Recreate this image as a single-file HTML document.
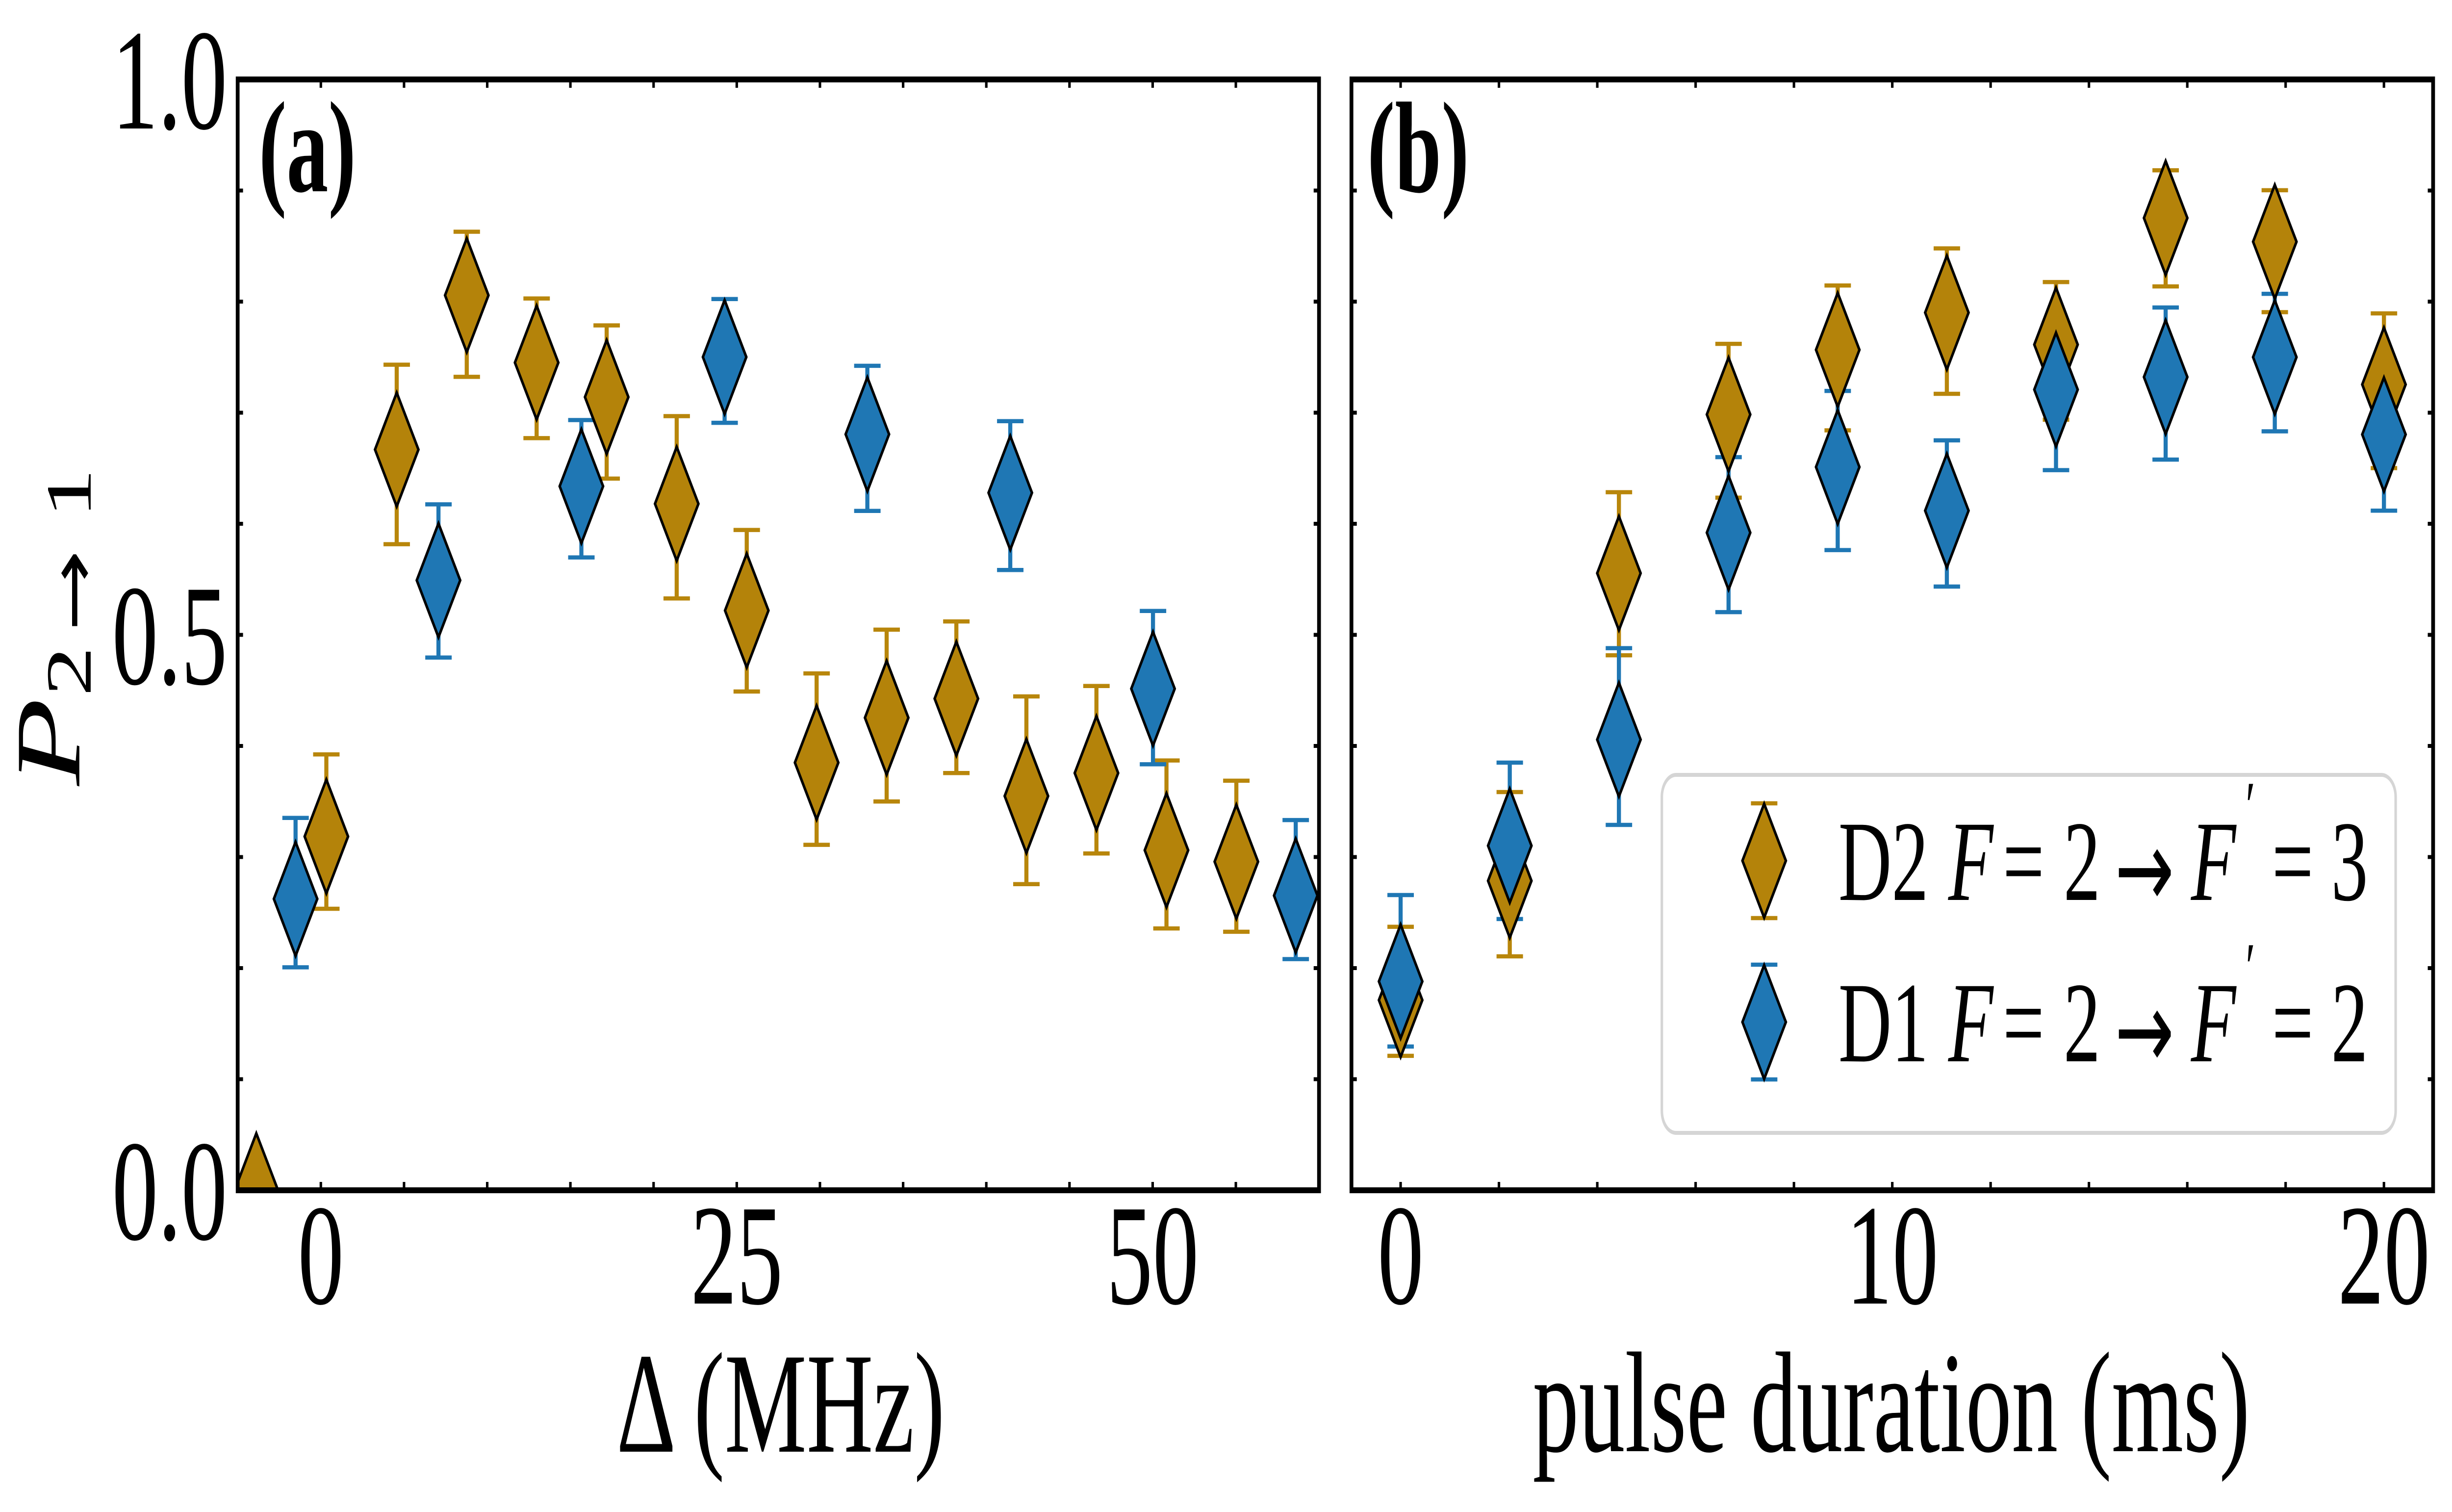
<!DOCTYPE html>
<html lang="en">
<head>
<meta charset="utf-8">
<title>Transfer probability vs detuning and pulse duration</title>
<style>
html,body{margin:0;padding:0;background:#fff;width:100%;height:100%;overflow:hidden}
svg{display:block;width:100%;height:100%}
text{font-family:"Liberation Serif","DejaVu Serif",serif;fill:#000}
.arrow{font-family:"DejaVu Sans",sans-serif}
</style>
</head>
<body>
<svg id="figure" xmlns="http://www.w3.org/2000/svg" viewBox="0 0 7789 3083" preserveAspectRatio="none">
  <defs>
    <clipPath id="clip-a"><rect x="755" y="162" width="3435" height="2265"/></clipPath>
    <clipPath id="clip-b"><rect x="4293" y="162" width="3436" height="2265"/></clipPath>
  </defs>
  <rect x="0" y="0" width="7789" height="3083" fill="#ffffff"/>
  <g id="panel-a"></g>
  <g id="panel-b"></g>

  <g>
    <text transform="translate(252,1602) rotate(-90)" font-size="293" font-style="italic">P</text>
    <text transform="translate(288,1420) rotate(-90)" font-size="205">2</text>
    <text class="arrow" transform="translate(300,1288) rotate(-90)" font-size="200">→</text>
    <text transform="translate(288,1057) rotate(-90)" font-size="205">1</text>
  </g>
  <text x="2480" y="2960" font-size="293" text-anchor="middle">Δ (MHz)</text>
  <text x="6008" y="2959" font-size="293" text-anchor="middle">pulse duration (ms)</text>
  <text x="822" y="390" font-size="265" font-weight="bold">(a)</text>
  <text x="4343" y="391" font-size="265" font-weight="bold">(b)</text>

  <g>
    <rect x="5279" y="1580" width="2331" height="730" rx="45" ry="45" fill="#ffffff" stroke="#d5d5d5" stroke-width="8"/>
    <g id="legend-keys"></g>
    <text y="1835" font-size="234"><tspan x="5840">D2</tspan><tspan x="6189" font-style="italic">F</tspan><tspan x="6362">=</tspan><tspan x="6555">2</tspan><tspan class="arrow" x="6718" font-size="225" dy="15">→</tspan><tspan x="6960" font-style="italic" dy="-15">F</tspan><tspan x="7125" font-size="140" font-style="italic" dy="-145">′</tspan><tspan x="7217" dy="145">=</tspan><tspan x="7405">3</tspan></text>
    <text y="2164" font-size="234"><tspan x="5840">D1</tspan><tspan x="6189" font-style="italic">F</tspan><tspan x="6362">=</tspan><tspan x="6555">2</tspan><tspan class="arrow" x="6718" font-size="225" dy="15">→</tspan><tspan x="6960" font-style="italic" dy="-15">F</tspan><tspan x="7125" font-size="140" font-style="italic" dy="-145">′</tspan><tspan x="7217" dy="145">=</tspan><tspan x="7405">2</tspan></text>
  </g>
</svg>

<script>
// ---- Panel (a): detuning scan ----
const aGoldX = [-3.88, 0.33, 4.56, 8.77, 12.97, 17.18, 21.39, 25.6, 29.8, 34.01, 38.2, 42.41, 46.62, 50.83, 55.03];
const aGoldY = [0.0, 0.3185, 0.6668, 0.8057, 0.7451, 0.7141, 0.618, 0.5219, 0.385, 0.4254, 0.4426, 0.3549, 0.3756, 0.3061, 0.2958];
const aGoldHi = [0.0, 0.3924, 0.7432, 0.8629, 0.8028, 0.7786, 0.6969, 0.5944, 0.4653, 0.5047, 0.5121, 0.4446, 0.454, 0.3869, 0.3687];
const aGoldLo = [0.0, 0.2534, 0.5816, 0.7323, 0.6771, 0.6407, 0.5328, 0.449, 0.311, 0.35, 0.3756, 0.2756, 0.3032, 0.2357, 0.2327];
const aBlueX = [-1.52, 7.07, 15.66, 24.27, 32.85, 41.44, 50.02, 58.6];
const aBlueY = [0.2623, 0.5491, 0.6338, 0.7501, 0.6806, 0.6279, 0.4515, 0.2653];
const aBlueHi = [0.3352, 0.6175, 0.6934, 0.8023, 0.7422, 0.6924, 0.5215, 0.3333];
const aBlueLo = [0.2007, 0.4796, 0.5697, 0.6909, 0.6116, 0.5584, 0.3835, 0.2081];

// ---- Panel (b): pulse-duration scan ----
const bX = [0, 2.22, 4.44, 6.67, 8.89, 11.11, 13.33, 15.56, 17.78, 20];
const bGoldY = [0.1712, 0.2786, 0.5555, 0.6984, 0.7566, 0.7901, 0.7613, 0.8753, 0.8539, 0.7254];
const bGoldHi = [0.2372, 0.3585, 0.6284, 0.762, 0.8145, 0.8479, 0.8176, 0.9182, 0.9003, 0.7894];
const bGoldLo = [0.121, 0.2106, 0.4816, 0.6235, 0.6841, 0.717, 0.6937, 0.8137, 0.7905, 0.6501];
const bBlueY = [0.188, 0.3102, 0.4057, 0.592, 0.6511, 0.6118, 0.7208, 0.7321, 0.75, 0.6804];
const bBlueHi = [0.2658, 0.385, 0.488, 0.66, 0.7196, 0.6751, 0.78, 0.7947, 0.807, 0.74];
const bBlueLo = [0.1294, 0.2442, 0.3289, 0.5205, 0.5763, 0.5435, 0.6483, 0.6578, 0.6832, 0.6118];

// ---- Ticks ----
const aXTicks = [0, 5, 10, 15, 20, 25, 30, 35, 40, 45, 50, 55];
const aXLabels = [0, 25, 50];
const bXTicks = [0, 2, 4, 6, 8, 10, 12, 14, 16, 18, 20];
const bXLabels = [0, 10, 20];
const yTicks = [0.1, 0.2, 0.3, 0.4, 0.5, 0.6, 0.7, 0.8, 0.9];
const yLabels = ["0.0", "0.5", "1.0"];

const NS = "http://www.w3.org/2000/svg";
const GOLD_LINE = "#b8860b";
const GOLD_FILL = "#b4830a";
const BLUE = "#1f77b4";
const TOP = 162;
const BOTTOM = 2427;

function yScale(v) { return BOTTOM - (BOTTOM - TOP) * v; }
function xScaleA(v) { return 755 + (v + 5) * (3435 / 65); }
function xScaleB(v) { return 4293 + (v + 1) * (3436 / 22); }

function mk(tag, attrs, parent) {
  const el = document.createElementNS(NS, tag);
  for (const k in attrs) el.setAttribute(k, attrs[k]);
  parent.appendChild(el);
  return el;
}
function diamond(cx, cy, fill, parent) {
  const pts = [[cx, cy - 116], [cx + 69, cy], [cx, cy + 116], [cx - 69, cy]];
  const el = mk("polygon", {
    points: pts.map(p => p.join(",")).join(" "),
    fill: fill, stroke: "#000", "stroke-width": 7.5,
    "stroke-linejoin": "miter", "stroke-miterlimit": 12
  }, parent);
  return el;
}
function drawErrors(xs, hi, lo, sx, color, parent) {
  xs.forEach((x, i) => {
    const px = sx(x);
    const bar = mk("line", { x1: px, x2: px, y1: yScale(hi[i]), y2: yScale(lo[i]), stroke: color, "stroke-width": 13 }, parent);
    
    
    const capTop = mk("line", { x1: px - 42, x2: px + 42, y1: yScale(hi[i]), y2: yScale(hi[i]), stroke: color, "stroke-width": 8.5 }, parent);
    
    
    const capBottom = mk("line", { x1: px - 42, x2: px + 42, y1: yScale(lo[i]), y2: yScale(lo[i]), stroke: color, "stroke-width": 8.5 }, parent);
    
    
  });
}
function drawMarkers(xs, ys, sx, fill, parent) {
  xs.forEach((x, i) => {
    const m = diamond(sx(x), yScale(ys[i]), fill, parent);
    
    
  });
}
function drawFrame(parent, left, right, xTicks, sx) {
  xTicks.forEach(t => {
    const px = sx(t);
    const up = mk("line", { x1: px, x2: px, y1: BOTTOM, y2: BOTTOM - 17, stroke: "#000", "stroke-width": 8 }, parent);
    
    
    const down = mk("line", { x1: px, x2: px, y1: TOP, y2: TOP + 17, stroke: "#000", "stroke-width": 8 }, parent);
    
    
  });
  yTicks.forEach(t => {
    const py = yScale(t);
    const l = mk("line", { x1: left, x2: left + 17, y1: py, y2: py, stroke: "#000", "stroke-width": 8 }, parent);
    
    
    const r = mk("line", { x1: right, x2: right - 17, y1: py, y2: py, stroke: "#000", "stroke-width": 8 }, parent);
    
    
  });
  const frame = mk("rect", { x: left, y: TOP, width: right - left, height: BOTTOM - TOP, fill: "none", stroke: "#000", "stroke-width": 12 }, parent);
  
  
}
function drawXLabels(labels, sx, parent) {
  labels.forEach(t => {
    const el = mk("text", { x: sx(t), y: 2658, "font-size": 293, "text-anchor": "middle" }, parent);
    
    
    el.textContent = String(t);
  });
}

// Panel (a)
const pa = document.getElementById("panel-a");
const clipA = mk("g", { "clip-path": "url(#clip-a)" }, pa);


drawErrors(aGoldX, aGoldHi, aGoldLo, xScaleA, GOLD_LINE, clipA);
drawErrors(aBlueX, aBlueHi, aBlueLo, xScaleA, BLUE, clipA);
drawMarkers(aGoldX, aGoldY, xScaleA, GOLD_FILL, clipA);
drawMarkers(aBlueX, aBlueY, xScaleA, BLUE, clipA);
drawFrame(pa, 755, 4190, aXTicks, xScaleA);
drawXLabels(aXLabels, xScaleA, pa);
yLabels.forEach(t => {
  const el = mk("text", { x: 722, y: yScale(parseFloat(t)) + 100, "font-size": 293, "text-anchor": "end" }, pa);
  
  
  el.textContent = t;
});

// Panel (b)
const pb = document.getElementById("panel-b");
const clipB = mk("g", { "clip-path": "url(#clip-b)" }, pb);


drawErrors(bX, bGoldHi, bGoldLo, xScaleB, GOLD_LINE, clipB);
drawErrors(bX, bBlueHi, bBlueLo, xScaleB, BLUE, clipB);
drawMarkers(bX, bGoldY, xScaleB, GOLD_FILL, clipB);
drawMarkers(bX, bBlueY, xScaleB, BLUE, clipB);
drawFrame(pb, 4293, 7729, bXTicks, xScaleB);
drawXLabels(bXLabels, xScaleB, pb);

// Legend keys
const lk = document.getElementById("legend-keys");
function legendKey(cy, lineColor, fill) {
  const c1 = mk("line", { x1: 5562, x2: 5646, y1: cy - 117, y2: cy - 117, stroke: lineColor, "stroke-width": 8.5 }, lk);
  
  
  const c2 = mk("line", { x1: 5562, x2: 5646, y1: cy + 117, y2: cy + 117, stroke: lineColor, "stroke-width": 8.5 }, lk);
  
  
  const d = diamond(5604, cy, fill, lk);
  
  
}
legendKey(1755, GOLD_LINE, GOLD_FILL);
legendKey(2084, BLUE, BLUE);
</script>
</body>
</html>
